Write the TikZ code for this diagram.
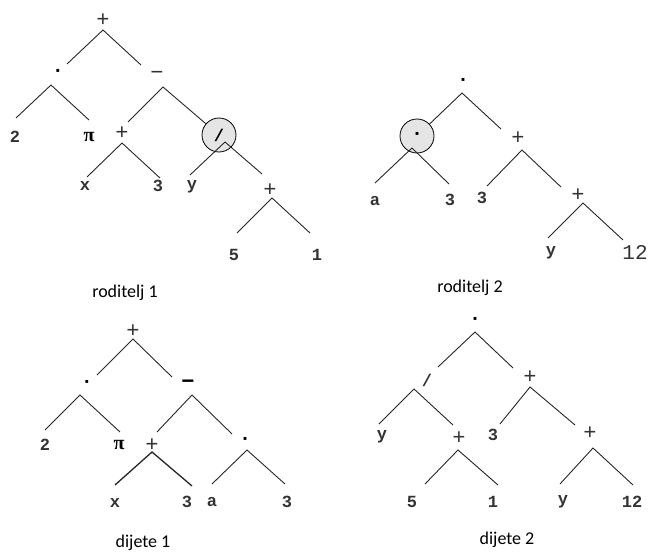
\documentclass[tikz,border=0pt]{standalone}
\usepackage{fontspec}
\usepackage{tikz}
\usetikzlibrary{shapes,positioning}
\newfontfamily\treefont{Liberation Mono}
\newfontfamily\pifont{Liberation Serif}
\newfontfamily\capfont{Carlito}
\tikzstyle{lbl}=[inner sep=0pt, text=black!80, font=\treefont\bfseries\fontsize{17}{17}\selectfont]
\tikzstyle{op}=[inner sep=0pt, text=black!80, font=\treefont\fontsize{22}{22}\selectfont]
\tikzstyle{big}=[inner sep=0pt, text=black!80, font=\treefont\fontsize{21}{21}\selectfont]
\tikzstyle{pi}=[inner sep=0pt, font=\pifont\bfseries\fontsize{20}{20}\selectfont]
\tikzstyle{dot}=[inner sep=0pt, font=\treefont\bfseries\fontsize{20}{20}\selectfont]
\tikzstyle{edge}=[draw, line width=0.9pt, black!85]
\tikzstyle{marked}=[circle, draw, line width=0.8pt, fill=gray!20,
  minimum size=34pt, inner sep=0pt, font=\treefont\bfseries\fontsize{17}{17}\selectfont]
\tikzstyle{caption}=[inner sep=0pt, font=\capfont\fontsize{18}{18}\selectfont]

\begin{document}
\begin{tikzpicture}[x=1pt, y=-1pt]
  \useasboundingbox (0,0) rectangle (649,554);

  % roditelj 1
  \node [op] (a0) at (103,20) {+};
  \node [dot] (a1) at (58,73) {·};
  \node [lbl] (a11) at (15,137) {2};
  \node [pi] (a12) at (89,137) {π};
  \node [op] (a2) at (157,75) {−};
  \node [op] (a21) at (122,133) {+};
  \node [lbl] (a211) at (85,186) {x};
  \node [lbl] (a212) at (158,186) {3};
  \node [marked] (a22) at (219,135) {/};
  \node [lbl] (a221) at (192,187) {y};
  \node [op] (a222) at (270,190) {+};
  \node [lbl] (a2221) at (234,255) {5};
  \node [lbl] (a2222) at (317,255) {1};
  \node [caption] (cap1) at (125,293) {roditelj 1};

  \coordinate (a0t) at (103,30);   \coordinate (a0l) at (67,64);   \coordinate (a0r) at (141,65);
  \coordinate (a1t) at (51,85);    \coordinate (a1l) at (16,118);  \coordinate (a1r) at (89,120);
  \coordinate (a2t) at (163,87);   \coordinate (a2l) at (128,122);
  \coordinate (a21t) at (122,143); \coordinate (a21l) at (87,177); \coordinate (a21r) at (160,178);
  \coordinate (a22t) at (225,142); \coordinate (a22l) at (190,175); \coordinate (a22r) at (262,174);
  \coordinate (a222t) at (272,198); \coordinate (a222l) at (237,233); \coordinate (a222r) at (310,233);

  \draw [edge] (a0l) -- (a0t) -- (a0r);
  \draw [edge] (a1l) -- (a1t) -- (a1r);
  \draw [edge] (a2l) -- (a2t) -- (a22);
  \draw [edge] (a21l) -- (a21t) -- (a21r);
  \draw [edge] (a22l) -- (a22t) -- (a22r);
  \draw [edge] (a222l) -- (a222t) -- (a222r);

  % roditelj 2
  \node [dot] (b0) at (463,82) {·};
  \node [marked, font=\treefont\bfseries\fontsize{20}{20}\selectfont] (b1) at (417,136) {·};
  \node [lbl] (b11) at (375,201) {a};
  \node [lbl] (b12) at (450,200) {3};
  \node [op] (b2) at (518,138) {+};
  \node [lbl] (b21) at (482,198) {3};
  \node [op] (b22) at (578,195) {+};
  \node [lbl] (b221) at (551,253) {y};
  \node [big] (b222) at (635,252) {12};
  \node [caption] (cap2) at (470,288) {roditelj 2};

  \coordinate (b0t) at (462,93);   \coordinate (b0r) at (501,129);
  \coordinate (b1t) at (412,148);  \coordinate (b1l) at (375,183); \coordinate (b1r) at (449,184);
  \coordinate (b2t) at (522,150);  \coordinate (b2l) at (487,186); \coordinate (b2r) at (561,187);
  \coordinate (b22t) at (583,203); \coordinate (b22l) at (548,238); \coordinate (b22r) at (623,240);

  \draw [edge] (b1) -- (b0t) -- (b0r);
  \draw [edge] (b1l) -- (b1t) -- (b1r);
  \draw [edge] (b2l) -- (b2t) -- (b2r);
  \draw [edge] (b22l) -- (b22t) -- (b22r);

  % dijete 1
  \node [op] (c0) at (133,331) {+};
  \node [dot] (c1) at (87,384) {·};
  \node [lbl] (c11) at (45,445) {2};
  \node [pi] (c12) at (119,445) {π};
  \node [op, text=black, font=\treefont\bfseries\fontsize{22}{22}\selectfont] (c2) at (188,384) {−};
  \node [op] (c21) at (152,445) {+};
  \node [lbl] (c211) at (115,503) {x};
  \node [lbl] (c212) at (187,502) {3};
  \node [dot] (c22) at (245,441) {·};
  \node [lbl] (c221) at (212,502) {a};
  \node [lbl] (c222) at (287,502) {3};
  \node [caption] (cap3) at (143,543) {dijete 1};

  \coordinate (c0t) at (133,339);  \coordinate (c0l) at (97,375);  \coordinate (c0r) at (172,377);
  \coordinate (c1t) at (80,395);   \coordinate (c1l) at (45,430);  \coordinate (c1r) at (120,432);
  \coordinate (c2t) at (192,395);  \coordinate (c2l) at (157,432); \coordinate (c2r) at (232,434);
  \coordinate (c21t) at (152,452); \coordinate (c21l) at (115,485); \coordinate (c21r) at (192,486);
  \coordinate (c22t) at (247,450); \coordinate (c22l) at (212,484); \coordinate (c22r) at (285,484);

  \draw [edge] (c0l) -- (c0t) -- (c0r);
  \draw [edge] (c1l) -- (c1t) -- (c1r);
  \draw [edge] (c2l) -- (c2t) -- (c2r);
  \draw [edge, line width=1.3pt] (c21l) -- (c21t) -- (c21r);
  \draw [edge] (c22l) -- (c22t) -- (c22r);

  % dijete 2
  \node [dot] (d0) at (475,321) {·};
  \node [lbl] (d1) at (427,380) {/};
  \node [lbl] (d11) at (382,437) {y};
  \node [op] (d12) at (459,438) {+};
  \node [lbl] (d121) at (412,502) {5};
  \node [lbl] (d122) at (493,502) {1};
  \node [op] (d2) at (530,377) {+};
  \node [lbl] (d21) at (493,435) {3};
  \node [op] (d22) at (590,433) {+};
  \node [lbl] (d221) at (563,502) {y};
  \node [lbl] (d222) at (632,502) {12};
  \node [caption] (cap4) at (507,540) {dijete 2};

  \coordinate (d0t) at (475,332);  \coordinate (d0l) at (438,367); \coordinate (d0r) at (513,368);
  \coordinate (d1t) at (414,389);  \coordinate (d1l) at (379,424); \coordinate (d1r) at (453,425);
  \coordinate (d12t) at (458,450); \coordinate (d12l) at (425,484); \coordinate (d12r) at (498,485);
  \coordinate (d2t) at (530,387);  \coordinate (d2l) at (500,424); \coordinate (d2r) at (575,425);
  \coordinate (d22t) at (593,448); \coordinate (d22l) at (560,484); \coordinate (d22r) at (633,485);

  \draw [edge] (d0l) -- (d0t) -- (d0r);
  \draw [edge] (d1l) -- (d1t) -- (d1r);
  \draw [edge] (d12l) -- (d12t) -- (d12r);
  \draw [edge] (d2l) -- (d2t) -- (d2r);
  \draw [edge] (d22l) -- (d22t) -- (d22r);
\end{tikzpicture}
\end{document}
